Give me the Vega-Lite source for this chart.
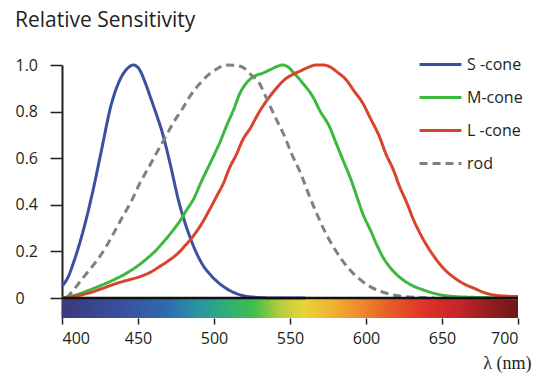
{
  "$schema": "https://vega.github.io/schema/vega-lite/v6.json",
  "width": 456,
  "height": 253,
  "autosize": {"type": "none"},
  "padding": {"left": 62, "top": 65, "right": 16, "bottom": 57},
  "background": "white",
  "config": {"view": {"stroke": null}, "font": "Open Sans"},
  "title": {"text": "Relative Sensitivity", "anchor": "start", "frame": "group", "dx": -47, "dy": 19, "offset": 18, "fontSize": 21, "fontWeight": "normal", "color": "#231f20", "baseline": "alphabetic"},
  "datasets": {
    "curves": [
      {"nm": 400, "v": 0.05, "type": "S -cone"}, {"nm": 404, "v": 0.09, "type": "S -cone"}, {"nm": 408, "v": 0.16, "type": "S -cone"}, {"nm": 414, "v": 0.29, "type": "S -cone"}, {"nm": 420, "v": 0.45, "type": "S -cone"}, {"nm": 426, "v": 0.635, "type": "S -cone"}, {"nm": 432, "v": 0.82, "type": "S -cone"}, {"nm": 438, "v": 0.935, "type": "S -cone"}, {"nm": 443, "v": 0.985, "type": "S -cone"}, {"nm": 447, "v": 1.0, "type": "S -cone"}, {"nm": 451, "v": 0.98, "type": "S -cone"}, {"nm": 455, "v": 0.92, "type": "S -cone"}, {"nm": 458, "v": 0.865, "type": "S -cone"}, {"nm": 462, "v": 0.79, "type": "S -cone"}, {"nm": 466, "v": 0.71, "type": "S -cone"}, {"nm": 471, "v": 0.58, "type": "S -cone"}, {"nm": 477, "v": 0.41, "type": "S -cone"}, {"nm": 484, "v": 0.265, "type": "S -cone"}, {"nm": 491, "v": 0.16, "type": "S -cone"}, {"nm": 499, "v": 0.09, "type": "S -cone"}, {"nm": 505, "v": 0.055, "type": "S -cone"}, {"nm": 511, "v": 0.03, "type": "S -cone"}, {"nm": 518, "v": 0.012, "type": "S -cone"}, {"nm": 526, "v": 0.004, "type": "S -cone"}, {"nm": 540, "v": 0.0, "type": "S -cone"}, {"nm": 560, "v": 0.0, "type": "S -cone"},
      {"nm": 400, "v": 0.0, "type": "M-cone"}, {"nm": 410, "v": 0.015, "type": "M-cone"}, {"nm": 418, "v": 0.034, "type": "M-cone"}, {"nm": 426, "v": 0.055, "type": "M-cone"}, {"nm": 434, "v": 0.078, "type": "M-cone"}, {"nm": 442, "v": 0.105, "type": "M-cone"}, {"nm": 449, "v": 0.134, "type": "M-cone"}, {"nm": 456, "v": 0.17, "type": "M-cone"}, {"nm": 462, "v": 0.206, "type": "M-cone"}, {"nm": 468, "v": 0.25, "type": "M-cone"}, {"nm": 473, "v": 0.29, "type": "M-cone"}, {"nm": 478, "v": 0.335, "type": "M-cone"}, {"nm": 482, "v": 0.378, "type": "M-cone"}, {"nm": 487, "v": 0.43, "type": "M-cone"}, {"nm": 491, "v": 0.49, "type": "M-cone"}, {"nm": 495, "v": 0.545, "type": "M-cone"}, {"nm": 499.5, "v": 0.606, "type": "M-cone"}, {"nm": 504, "v": 0.67, "type": "M-cone"}, {"nm": 508, "v": 0.735, "type": "M-cone"}, {"nm": 513, "v": 0.81, "type": "M-cone"}, {"nm": 517, "v": 0.878, "type": "M-cone"}, {"nm": 521, "v": 0.92, "type": "M-cone"}, {"nm": 526, "v": 0.95, "type": "M-cone"}, {"nm": 532, "v": 0.965, "type": "M-cone"}, {"nm": 537, "v": 0.98, "type": "M-cone"}, {"nm": 542, "v": 0.995, "type": "M-cone"}, {"nm": 545, "v": 1.0, "type": "M-cone"}, {"nm": 549, "v": 0.99, "type": "M-cone"}, {"nm": 552, "v": 0.97, "type": "M-cone"}, {"nm": 558, "v": 0.925, "type": "M-cone"}, {"nm": 565, "v": 0.864, "type": "M-cone"}, {"nm": 570, "v": 0.8, "type": "M-cone"}, {"nm": 576, "v": 0.735, "type": "M-cone"}, {"nm": 580, "v": 0.67, "type": "M-cone"}, {"nm": 585, "v": 0.59, "type": "M-cone"}, {"nm": 590, "v": 0.51, "type": "M-cone"}, {"nm": 594, "v": 0.435, "type": "M-cone"}, {"nm": 598, "v": 0.36, "type": "M-cone"}, {"nm": 603, "v": 0.29, "type": "M-cone"}, {"nm": 607, "v": 0.23, "type": "M-cone"}, {"nm": 611, "v": 0.177, "type": "M-cone"}, {"nm": 616, "v": 0.13, "type": "M-cone"}, {"nm": 622, "v": 0.09, "type": "M-cone"}, {"nm": 630, "v": 0.055, "type": "M-cone"}, {"nm": 638, "v": 0.034, "type": "M-cone"}, {"nm": 646, "v": 0.018, "type": "M-cone"}, {"nm": 655, "v": 0.008, "type": "M-cone"}, {"nm": 670, "v": 0.003, "type": "M-cone"}, {"nm": 690, "v": 0.001, "type": "M-cone"}, {"nm": 700, "v": 0.0, "type": "M-cone"},
      {"nm": 400, "v": 0.0, "type": "L -cone"}, {"nm": 410, "v": 0.01, "type": "L -cone"}, {"nm": 418, "v": 0.022, "type": "L -cone"}, {"nm": 427, "v": 0.042, "type": "L -cone"}, {"nm": 436, "v": 0.063, "type": "L -cone"}, {"nm": 444, "v": 0.078, "type": "L -cone"}, {"nm": 451, "v": 0.091, "type": "L -cone"}, {"nm": 458, "v": 0.11, "type": "L -cone"}, {"nm": 464, "v": 0.134, "type": "L -cone"}, {"nm": 470, "v": 0.16, "type": "L -cone"}, {"nm": 476, "v": 0.19, "type": "L -cone"}, {"nm": 481, "v": 0.225, "type": "L -cone"}, {"nm": 486, "v": 0.263, "type": "L -cone"}, {"nm": 492, "v": 0.32, "type": "L -cone"}, {"nm": 497, "v": 0.378, "type": "L -cone"}, {"nm": 502, "v": 0.44, "type": "L -cone"}, {"nm": 506, "v": 0.49, "type": "L -cone"}, {"nm": 510, "v": 0.555, "type": "L -cone"}, {"nm": 515, "v": 0.62, "type": "L -cone"}, {"nm": 519, "v": 0.68, "type": "L -cone"}, {"nm": 524, "v": 0.73, "type": "L -cone"}, {"nm": 529, "v": 0.79, "type": "L -cone"}, {"nm": 535, "v": 0.85, "type": "L -cone"}, {"nm": 541, "v": 0.9, "type": "L -cone"}, {"nm": 547, "v": 0.94, "type": "L -cone"}, {"nm": 552, "v": 0.96, "type": "L -cone"}, {"nm": 557, "v": 0.975, "type": "L -cone"}, {"nm": 562, "v": 0.99, "type": "L -cone"}, {"nm": 567, "v": 1.0, "type": "L -cone"}, {"nm": 572, "v": 1.0, "type": "L -cone"}, {"nm": 576, "v": 0.993, "type": "L -cone"}, {"nm": 581, "v": 0.97, "type": "L -cone"}, {"nm": 587, "v": 0.936, "type": "L -cone"}, {"nm": 592, "v": 0.89, "type": "L -cone"}, {"nm": 598, "v": 0.835, "type": "L -cone"}, {"nm": 603, "v": 0.77, "type": "L -cone"}, {"nm": 609, "v": 0.69, "type": "L -cone"}, {"nm": 613, "v": 0.62, "type": "L -cone"}, {"nm": 618, "v": 0.55, "type": "L -cone"}, {"nm": 622, "v": 0.48, "type": "L -cone"}, {"nm": 627, "v": 0.406, "type": "L -cone"}, {"nm": 631, "v": 0.34, "type": "L -cone"}, {"nm": 635.5, "v": 0.278, "type": "L -cone"}, {"nm": 641, "v": 0.215, "type": "L -cone"}, {"nm": 646.5, "v": 0.163, "type": "L -cone"}, {"nm": 652, "v": 0.12, "type": "L -cone"}, {"nm": 657.5, "v": 0.09, "type": "L -cone"}, {"nm": 664, "v": 0.062, "type": "L -cone"}, {"nm": 671, "v": 0.042, "type": "L -cone"}, {"nm": 677, "v": 0.025, "type": "L -cone"}, {"nm": 684, "v": 0.013, "type": "L -cone"}, {"nm": 692, "v": 0.008, "type": "L -cone"}, {"nm": 700, "v": 0.006, "type": "L -cone"},
      {"nm": 403, "v": 0.0, "type": "rod"}, {"nm": 407.5, "v": 0.034, "type": "rod"}, {"nm": 413, "v": 0.08, "type": "rod"}, {"nm": 418, "v": 0.12, "type": "rod"}, {"nm": 424, "v": 0.17, "type": "rod"}, {"nm": 429, "v": 0.22, "type": "rod"}, {"nm": 435, "v": 0.29, "type": "rod"}, {"nm": 440, "v": 0.35, "type": "rod"}, {"nm": 446, "v": 0.42, "type": "rod"}, {"nm": 451, "v": 0.49, "type": "rod"}, {"nm": 457, "v": 0.56, "type": "rod"}, {"nm": 462, "v": 0.62, "type": "rod"}, {"nm": 468, "v": 0.69, "type": "rod"}, {"nm": 473, "v": 0.75, "type": "rod"}, {"nm": 479, "v": 0.81, "type": "rod"}, {"nm": 484, "v": 0.864, "type": "rod"}, {"nm": 490, "v": 0.915, "type": "rod"}, {"nm": 495, "v": 0.95, "type": "rod"}, {"nm": 501, "v": 0.98, "type": "rod"}, {"nm": 508, "v": 1.0, "type": "rod"}, {"nm": 514, "v": 0.998, "type": "rod"}, {"nm": 519, "v": 0.99, "type": "rod"}, {"nm": 524, "v": 0.96, "type": "rod"}, {"nm": 530, "v": 0.92, "type": "rod"}, {"nm": 535, "v": 0.85, "type": "rod"}, {"nm": 540, "v": 0.78, "type": "rod"}, {"nm": 546, "v": 0.7, "type": "rod"}, {"nm": 551, "v": 0.62, "type": "rod"}, {"nm": 557, "v": 0.535, "type": "rod"}, {"nm": 562, "v": 0.45, "type": "rod"}, {"nm": 567.5, "v": 0.363, "type": "rod"}, {"nm": 573, "v": 0.285, "type": "rod"}, {"nm": 578.5, "v": 0.22, "type": "rod"}, {"nm": 584, "v": 0.165, "type": "rod"}, {"nm": 589.5, "v": 0.12, "type": "rod"}, {"nm": 596, "v": 0.08, "type": "rod"}, {"nm": 603, "v": 0.048, "type": "rod"}, {"nm": 610, "v": 0.028, "type": "rod"}, {"nm": 618, "v": 0.013, "type": "rod"}, {"nm": 626, "v": 0.006, "type": "rod"}, {"nm": 633, "v": 0.003, "type": "rod"}, {"nm": 645, "v": 0.0, "type": "rod"}
    ]
  },
  "layer": [
    {
      "data": {"values": [{"band": "spectrum"}]},
      "mark": {"type": "rect", "fill": {"gradient": "linear", "x1": 0, "x2": 1, "y1": 0, "y2": 0, "stops": [
        {"offset": 0, "color": "#3a3a7c"}, {"offset": 0.13, "color": "#3a4f9c"}, {"offset": 0.23, "color": "#2e6cad"}, {"offset": 0.3, "color": "#2a94a2"}, {"offset": 0.37, "color": "#33b072"}, {"offset": 0.42, "color": "#3fbe4a"}, {"offset": 0.48, "color": "#b9cd3c"}, {"offset": 0.53, "color": "#e9d43a"}, {"offset": 0.6, "color": "#efae31"}, {"offset": 0.66, "color": "#ec862b"}, {"offset": 0.72, "color": "#e65b29"}, {"offset": 0.8, "color": "#de3127"}, {"offset": 0.87, "color": "#c2262a"}, {"offset": 0.95, "color": "#8e1c1c"}, {"offset": 1, "color": "#6e1717"}
      ]}},
      "encoding": {
        "x": {"datum": 400, "type": "quantitative"},
        "x2": {"datum": 700},
        "y": {"datum": 0, "type": "quantitative"},
        "y2": {"datum": -0.0858}
      }
    },
    {
      "data": {"name": "curves"},
      "mark": {"type": "line", "strokeWidth": 3, "interpolate": "monotone"},
      "encoding": {
        "x": {"field": "nm", "type": "quantitative", "scale": {"domain": [400, 700], "nice": false, "zero": false},
          "axis": {"values": [400, 450, 500, 550, 600, 650, 700], "domain": false, "grid": false, "tickColor": "#231f20", "tickSize": 6, "tickWidth": 1.5, "labelFontSize": 16, "labelColor": "#231f20", "labelPadding": 6,
            "title": "λ (nm)", "titleFont": "Liberation Serif", "titleFontSize": 18, "titleFontWeight": "normal", "titleColor": "#231f20", "titleAnchor": "end", "titleAlign": "right", "titleX": 469, "titleY": 50, "titleBaseline": "alphabetic"}},
        "y": {"field": "v", "type": "quantitative", "scale": {"domain": [-0.0858, 1], "nice": false, "zero": false},
          "axis": {"values": [0, 0.2, 0.4, 0.6, 0.8, 1], "labelExpr": "datum.value == 0 ? '0' : format(datum.value, '.1f')", "title": null, "grid": false, "domainColor": "#231f20", "domainWidth": 2, "tickColor": "#231f20", "tickSize": 12, "tickWidth": 1.5, "labelAlign": "left", "labelPadding": 35, "labelFontSize": 16, "labelColor": "#231f20"}},
        "color": {"field": "type", "type": "nominal", "scale": {"domain": ["S -cone", "M-cone", "L -cone", "rod"], "range": ["#3a50a0", "#3db83f", "#d8432c", "#808080"]},
          "legend": {"title": null, "orient": "none", "legendX": 360.5, "legendY": -18.5, "symbolType": "M-1.27,0H1.27", "symbolSize": 1089, "symbolStrokeWidth": 3, "labelFontSize": 16, "labelColor": "#231f20", "labelOffset": 8.5, "rowPadding": 7, "padding": 0}},
        "strokeDash": {"field": "type", "type": "nominal", "scale": {"domain": ["S -cone", "M-cone", "L -cone", "rod"], "range": [[1, 0], [1, 0], [1, 0], [8, 5]]}, "legend": {"title": null}}
      }
    },
    {
      "data": {"values": [{"band": "baseline"}]},
      "mark": {"type": "rule", "color": "#111111", "strokeWidth": 2.5},
      "encoding": {
        "x": {"datum": 400, "type": "quantitative"},
        "x2": {"datum": 700},
        "y": {"datum": 0, "type": "quantitative"}
      }
    }
  ]
}
